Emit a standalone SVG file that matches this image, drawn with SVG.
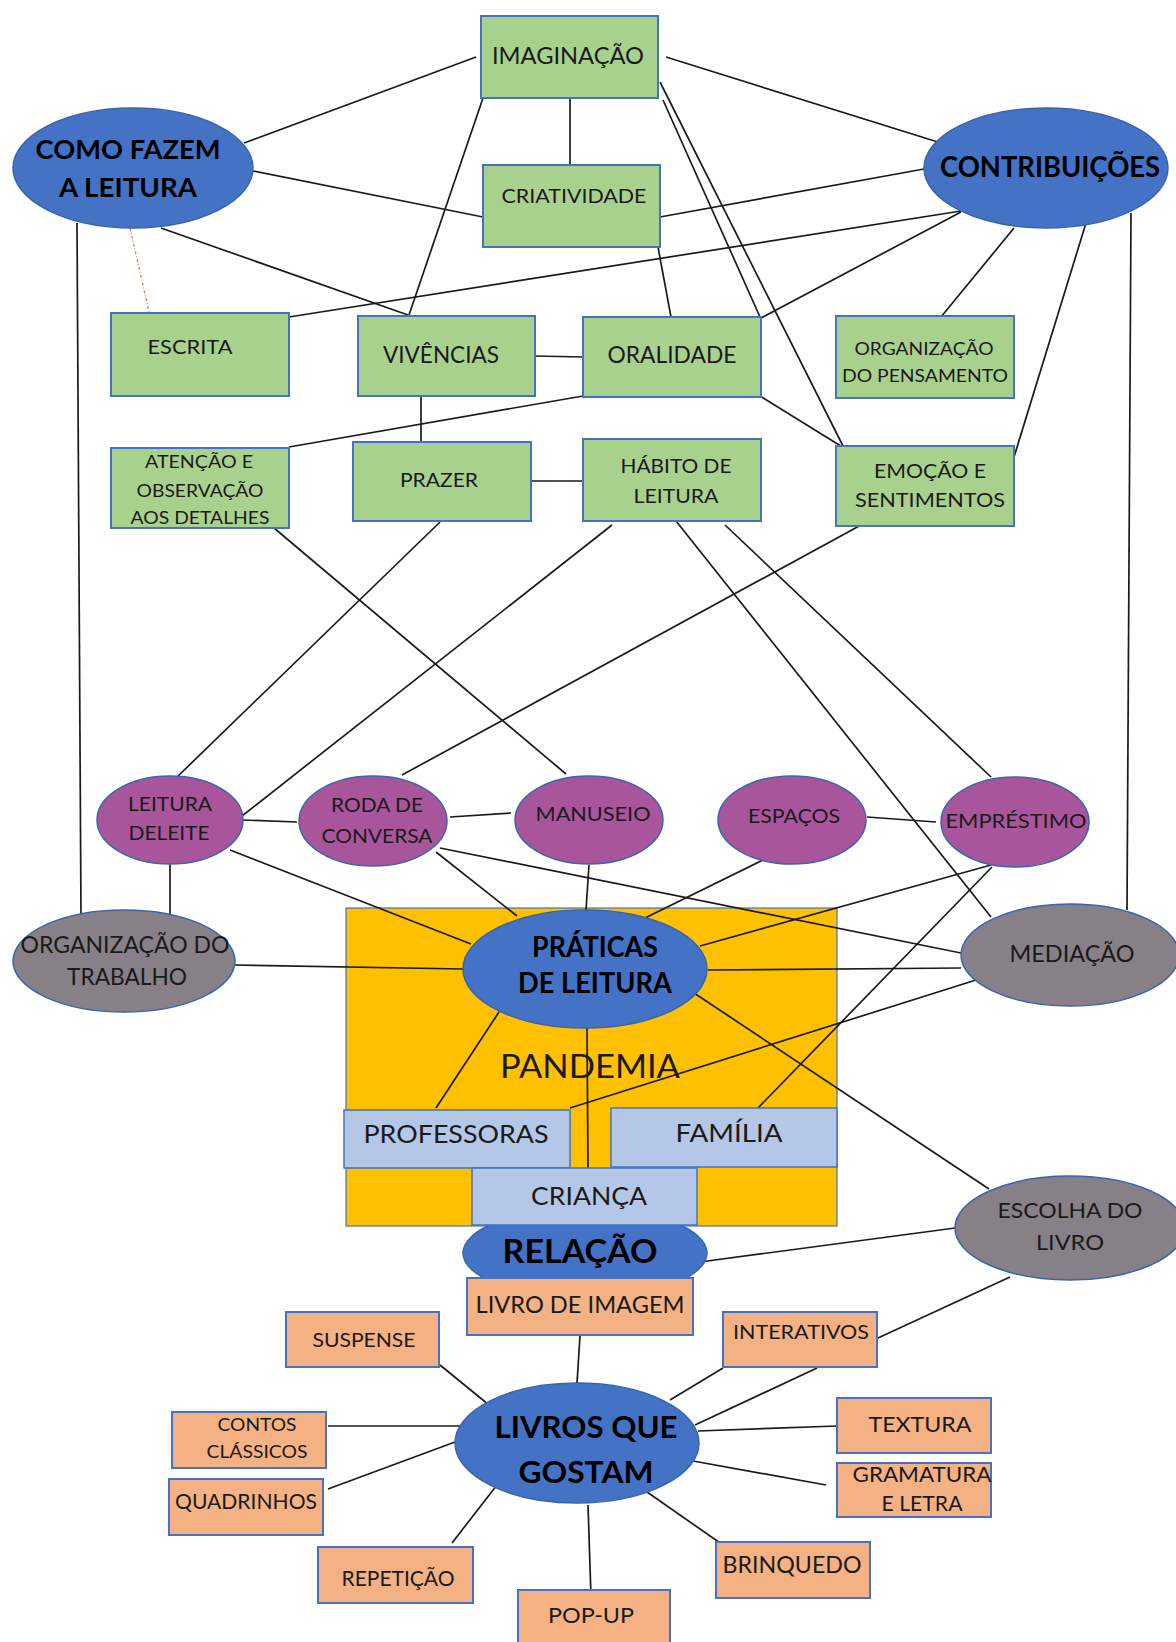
<svg xmlns="http://www.w3.org/2000/svg" width="1176" height="1642" viewBox="0 0 1176 1642">
<style>
text{font-family:Lato,"Liberation Sans",sans-serif;fill:#1a1a1a;text-anchor:middle}
.g{fill:#A9D18E;stroke:#4472C4;stroke-width:2}
.o{fill:#F4B183;stroke:#4472C4;stroke-width:2}
.lb{fill:#B4C7E7;stroke:#4472C4;stroke-width:1.5}
.b{fill:#4472C4;stroke:#3A64AE;stroke-width:1.5}
.p{fill:#A9559C;stroke:#3A64AE;stroke-width:1.5}
.gr{fill:#878087;stroke:#3A64AE;stroke-width:1.5}
.y{fill:#FFC000;stroke:#4472C4;stroke-width:1.2}
.bt{font-weight:bold;fill:#000}
#connectors line{stroke:#1a1a1a;stroke-width:1.7}
#connectors line.dot{stroke:#ED7D31;stroke-width:1.3;stroke-dasharray:3 2 1 2}
</style>

<g id="pandemia">
<rect class="y" x="346" y="908" width="491" height="318"/>
<text x="590" y="1078" font-size="33" textLength="180" lengthAdjust="spacingAndGlyphs">PANDEMIA</text>
</g>

<g id="connectors">
<line x1="244" y1="143" x2="476" y2="57"/>
<line x1="253" y1="171" x2="483" y2="217"/>
<line x1="161" y1="228" x2="408" y2="315"/>
<line x1="483" y1="98" x2="409" y2="315"/>
<line x1="570" y1="98" x2="570" y2="165"/>
<line class="dot" x1="130" y1="228" x2="149" y2="312"/>
<line x1="77" y1="223" x2="81" y2="915"/>
<line x1="289" y1="317" x2="961" y2="211"/>
<line x1="534" y1="356" x2="584" y2="357"/>
<line x1="421" y1="396" x2="421" y2="442"/>
<line x1="583" y1="396" x2="289" y2="447"/>
<line x1="658" y1="247" x2="671" y2="317"/>
<line x1="666" y1="57" x2="941" y2="143"/>
<line x1="660" y1="217" x2="924" y2="169"/>
<line x1="761" y1="318" x2="961" y2="212"/>
<line x1="660" y1="82" x2="844" y2="448"/>
<line x1="663" y1="100" x2="760" y2="317"/>
<line x1="760" y1="396" x2="844" y2="448"/>
<line x1="1014" y1="228" x2="941" y2="317"/>
<line x1="1086" y1="223" x2="1014" y2="457"/>
<line x1="1131" y1="213" x2="1127" y2="910"/>
<line x1="532" y1="481" x2="584" y2="481"/>
<line x1="274" y1="528" x2="566" y2="774"/>
<line x1="440" y1="522" x2="176" y2="778"/>
<line x1="612" y1="525" x2="242" y2="816"/>
<line x1="861" y1="525" x2="402" y2="775"/>
<line x1="676" y1="521" x2="991" y2="917"/>
<line x1="725" y1="525" x2="991" y2="777"/>
<line x1="242" y1="820" x2="297" y2="822"/>
<line x1="450" y1="817" x2="511" y2="813"/>
<line x1="867" y1="817" x2="936" y2="822"/>
<line x1="170" y1="863" x2="170" y2="915"/>
<line x1="230" y1="850" x2="471" y2="944"/>
<line x1="436" y1="852" x2="517" y2="916"/>
<line x1="440" y1="848" x2="961" y2="953"/>
<line x1="589" y1="865" x2="586" y2="910"/>
<line x1="765" y1="859" x2="645" y2="918"/>
<line x1="991" y1="865" x2="700" y2="946"/>
<line x1="708" y1="970" x2="961" y2="968"/>
<line x1="233" y1="965" x2="463" y2="969"/>
<line x1="685" y1="987" x2="989" y2="1189"/>
<line x1="976" y1="980" x2="570" y2="1108"/>
<line x1="992" y1="867" x2="758" y2="1108"/>
<line x1="499" y1="1012" x2="436" y2="1108"/>
<line x1="587" y1="1028" x2="588" y2="1168"/>
<line x1="955" y1="1228" x2="700" y2="1262"/>
<line x1="1010" y1="1277" x2="878" y2="1338"/>
<line x1="580" y1="1336" x2="577" y2="1383"/>
<line x1="440" y1="1365" x2="489" y2="1405"/>
<line x1="328" y1="1426" x2="467" y2="1426"/>
<line x1="328" y1="1489" x2="455" y2="1442"/>
<line x1="452" y1="1543" x2="497" y2="1485"/>
<line x1="588" y1="1505" x2="591" y2="1597"/>
<line x1="647" y1="1492" x2="723" y2="1545"/>
<line x1="723" y1="1368" x2="670" y2="1400"/>
<line x1="817" y1="1368" x2="695" y2="1425"/>
<line x1="837" y1="1426" x2="698" y2="1431"/>
<line x1="826" y1="1485" x2="693" y2="1461"/>
</g>

<g id="imaginacao"><rect class="g" x="481" y="16" width="177" height="82"/><text x="568" y="64" font-size="24" textLength="152" lengthAdjust="spacingAndGlyphs">IMAGINAÇÃO</text></g>
<g id="criatividade"><rect class="g" x="483" y="165" width="177" height="82"/><text x="574" y="203" font-size="19" textLength="145" lengthAdjust="spacingAndGlyphs">CRIATIVIDADE</text></g>
<g id="como-fazem"><ellipse class="b" cx="133" cy="168" rx="120" ry="60"/><text class="bt" x="128" y="159" font-size="27" textLength="185" lengthAdjust="spacingAndGlyphs">COMO FAZEM</text><text class="bt" x="128" y="197" font-size="27" textLength="138" lengthAdjust="spacingAndGlyphs">A LEITURA</text></g>
<g id="contribuicoes"><ellipse class="b" cx="1046" cy="168" rx="122" ry="60"/><text class="bt" x="1050" y="177" font-size="28" textLength="220" lengthAdjust="spacingAndGlyphs">CONTRIBUIÇÕES</text></g>
<g id="escrita"><rect class="g" x="111" y="313" width="178" height="83"/><text x="190" y="354" font-size="20" textLength="85" lengthAdjust="spacingAndGlyphs">ESCRITA</text></g>
<g id="vivencias"><rect class="g" x="358" y="316" width="177" height="80"/><text x="441" y="363" font-size="23" textLength="116" lengthAdjust="spacingAndGlyphs">VIVÊNCIAS</text></g>
<g id="oralidade"><rect class="g" x="583" y="317" width="178" height="80"/><text x="672" y="363" font-size="23" textLength="129" lengthAdjust="spacingAndGlyphs">ORALIDADE</text></g>
<g id="org-pensamento"><rect class="g" x="836" y="316" width="178" height="82"/><text x="924" y="355" font-size="17" textLength="139" lengthAdjust="spacingAndGlyphs">ORGANIZAÇÃO</text><text x="925" y="382" font-size="17" textLength="166" lengthAdjust="spacingAndGlyphs">DO PENSAMENTO</text></g>
<g id="atencao"><rect class="g" x="111" y="448" width="178" height="80"/><text x="199" y="468" font-size="18" textLength="108" lengthAdjust="spacingAndGlyphs">ATENÇÃO E</text><text x="200" y="497" font-size="18" textLength="127" lengthAdjust="spacingAndGlyphs">OBSERVAÇÃO</text><text x="200" y="524" font-size="18" textLength="139" lengthAdjust="spacingAndGlyphs">AOS DETALHES</text></g>
<g id="prazer"><rect class="g" x="353" y="442" width="178" height="79"/><text x="439" y="487" font-size="20" textLength="78" lengthAdjust="spacingAndGlyphs">PRAZER</text></g>
<g id="habito"><rect class="g" x="583" y="439" width="178" height="82"/><text x="676" y="473" font-size="20" textLength="111" lengthAdjust="spacingAndGlyphs">HÁBITO DE</text><text x="676" y="503" font-size="20" textLength="85" lengthAdjust="spacingAndGlyphs">LEITURA</text></g>
<g id="emocao"><rect class="g" x="836" y="446" width="178" height="80"/><text x="930" y="478" font-size="20" textLength="112" lengthAdjust="spacingAndGlyphs">EMOÇÃO E</text><text x="930" y="507" font-size="20" textLength="150" lengthAdjust="spacingAndGlyphs">SENTIMENTOS</text></g>

<g id="leitura-deleite"><ellipse class="p" cx="170" cy="820" rx="73" ry="44"/><text x="170" y="811" font-size="20" textLength="84" lengthAdjust="spacingAndGlyphs">LEITURA</text><text x="169" y="840" font-size="20" textLength="81" lengthAdjust="spacingAndGlyphs">DELEITE</text></g>
<g id="roda"><ellipse class="p" cx="373" cy="821" rx="74" ry="45"/><text x="377" y="812" font-size="20" textLength="92" lengthAdjust="spacingAndGlyphs">RODA DE</text><text x="377" y="843" font-size="20" textLength="111" lengthAdjust="spacingAndGlyphs">CONVERSA</text></g>
<g id="manuseio"><ellipse class="p" cx="589" cy="820" rx="74" ry="44"/><text x="593" y="821" font-size="20" textLength="115" lengthAdjust="spacingAndGlyphs">MANUSEIO</text></g>
<g id="espacos"><ellipse class="p" cx="792" cy="820" rx="74" ry="44"/><text x="794" y="823" font-size="20" textLength="92" lengthAdjust="spacingAndGlyphs">ESPAÇOS</text></g>
<g id="emprestimo"><ellipse class="p" cx="1015" cy="822" rx="74" ry="45"/><text x="1016" y="828" font-size="20" textLength="141" lengthAdjust="spacingAndGlyphs">EMPRÉSTIMO</text></g>

<g id="org-trabalho"><ellipse class="gr" cx="124" cy="961" rx="111" ry="51"/><text x="125" y="953" font-size="24" textLength="209" lengthAdjust="spacingAndGlyphs">ORGANIZAÇÃO DO</text><text x="127" y="985" font-size="24" textLength="120" lengthAdjust="spacingAndGlyphs">TRABALHO</text></g>
<g id="mediacao"><ellipse class="gr" cx="1070" cy="955" rx="109" ry="51"/><text x="1072" y="962" font-size="24" textLength="125" lengthAdjust="spacingAndGlyphs">MEDIAÇÃO</text></g>
<g id="praticas"><ellipse class="b" cx="585" cy="969" rx="122" ry="59"/><text class="bt" x="595" y="957" font-size="28" textLength="126" lengthAdjust="spacingAndGlyphs">PRÁTICAS</text><text class="bt" x="595" y="993" font-size="28" textLength="154" lengthAdjust="spacingAndGlyphs">DE LEITURA</text></g>
<g id="professoras"><rect class="lb" x="344" y="1110" width="226" height="58"/><text x="456" y="1143" font-size="25" textLength="185" lengthAdjust="spacingAndGlyphs">PROFESSORAS</text></g>
<g id="familia"><rect class="lb" x="611" y="1108" width="226" height="59"/><text x="729" y="1142" font-size="25" textLength="107" lengthAdjust="spacingAndGlyphs">FAMÍLIA</text></g>
<g id="escolha"><ellipse class="gr" cx="1070" cy="1228" rx="115" ry="52"/><text x="1070" y="1218" font-size="22" textLength="145" lengthAdjust="spacingAndGlyphs">ESCOLHA DO</text><text x="1070" y="1250" font-size="22" textLength="68" lengthAdjust="spacingAndGlyphs">LIVRO</text></g>
<g id="relacao"><ellipse class="b" cx="585" cy="1253" rx="122" ry="45"/><text class="bt" x="580" y="1263" font-size="32" textLength="155" lengthAdjust="spacingAndGlyphs">RELAÇÃO</text></g>
<g id="crianca"><rect class="lb" x="472" y="1168" width="225" height="57"/><text x="589" y="1205" font-size="25" textLength="116" lengthAdjust="spacingAndGlyphs">CRIANÇA</text></g>
<g id="livro-imagem"><rect class="o" x="467" y="1278" width="226" height="57"/><text x="580" y="1313" font-size="23" textLength="209" lengthAdjust="spacingAndGlyphs">LIVRO DE IMAGEM</text></g>

<g id="livros"><ellipse class="b" cx="577" cy="1443" rx="122" ry="60"/><text class="bt" x="586" y="1438" font-size="31" textLength="183" lengthAdjust="spacingAndGlyphs">LIVROS QUE</text><text class="bt" x="586" y="1483" font-size="31" textLength="135" lengthAdjust="spacingAndGlyphs">GOSTAM</text></g>
<g id="suspense"><rect class="o" x="286" y="1312" width="153" height="55"/><text x="364" y="1347" font-size="20" textLength="103" lengthAdjust="spacingAndGlyphs">SUSPENSE</text></g>
<g id="contos"><rect class="o" x="172" y="1412" width="154" height="56"/><text x="257" y="1431" font-size="18" textLength="79" lengthAdjust="spacingAndGlyphs">CONTOS</text><text x="257" y="1458" font-size="18" textLength="101" lengthAdjust="spacingAndGlyphs">CLÁSSICOS</text></g>
<g id="quadrinhos"><rect class="o" x="169" y="1479" width="154" height="56"/><text x="246" y="1509" font-size="21" textLength="142" lengthAdjust="spacingAndGlyphs">QUADRINHOS</text></g>
<g id="repeticao"><rect class="o" x="318" y="1547" width="155" height="56"/><text x="398" y="1586" font-size="21" textLength="113" lengthAdjust="spacingAndGlyphs">REPETIÇÃO</text></g>
<g id="popup"><rect class="o" x="518" y="1590" width="152" height="60"/><text x="591" y="1623" font-size="22" textLength="86" lengthAdjust="spacingAndGlyphs">POP-UP</text></g>
<g id="interativos"><rect class="o" x="723" y="1312" width="154" height="55"/><text x="801" y="1339" font-size="20" textLength="136" lengthAdjust="spacingAndGlyphs">INTERATIVOS</text></g>
<g id="textura"><rect class="o" x="837" y="1398" width="154" height="55"/><text x="920" y="1432" font-size="22" textLength="103" lengthAdjust="spacingAndGlyphs">TEXTURA</text></g>
<g id="gramatura"><rect class="o" x="837" y="1463" width="154" height="54"/><text x="922" y="1482" font-size="21" textLength="139" lengthAdjust="spacingAndGlyphs">GRAMATURA</text><text x="922" y="1511" font-size="21" textLength="81" lengthAdjust="spacingAndGlyphs">E LETRA</text></g>
<g id="brinquedo"><rect class="o" x="716" y="1542" width="154" height="56"/><text x="792" y="1573" font-size="23" textLength="139" lengthAdjust="spacingAndGlyphs">BRINQUEDO</text></g>
</svg>
